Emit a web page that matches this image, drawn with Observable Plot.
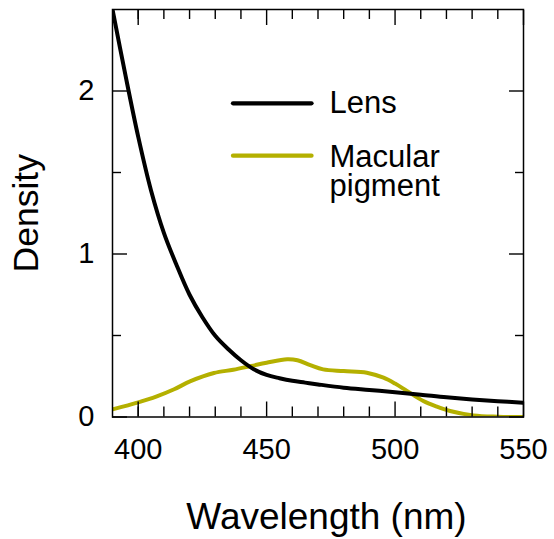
<!DOCTYPE html>
<html>
<head>
<meta charset="utf-8">
<script src="https://cdn.jsdelivr.net/npm/d3@7"></script>
<script src="https://cdn.jsdelivr.net/npm/@observablehq/plot@0.6"></script>
<style>
  body { margin: 0; background: #fff; }
  #wrap { position: relative; width: 554px; height: 539px; font-family: "Liberation Sans", Arial, sans-serif; }
  #legend { position: absolute; left: 0; top: 0; pointer-events: none; }
</style>
</head>
<body>
<div id="wrap"></div>
<script>
// ---- data ----
const seriesNames = ["Lens", "Macular pigment"];
const seriesColors = ["#000000", "#b4b000"];
const legendLabelLines = [["Lens"], ["Macular", "pigment"]];

const lensWavelength = [390, 395, 400, 405, 410, 415, 420, 425, 430, 435, 440, 445, 450, 455, 460, 465, 470, 480, 490, 500, 510, 520, 530, 540, 550];
const lensDensity    = [2.5, 2.1, 1.72, 1.39, 1.13, 0.93, 0.75, 0.612, 0.498, 0.417, 0.348, 0.293, 0.258, 0.238, 0.222, 0.211, 0.2, 0.18, 0.166, 0.152, 0.137, 0.121, 0.108, 0.097, 0.088];

const macularWavelength = [390, 400, 407, 414, 420.4, 429.5, 437, 444, 450, 458, 462, 467, 472, 480, 489, 495.5, 500, 504.6, 511, 516, 521.4, 530.5, 540, 550];
const macularDensity    = [0.047, 0.09, 0.125, 0.17, 0.22, 0.27, 0.29, 0.313, 0.333, 0.354, 0.348, 0.318, 0.292, 0.282, 0.272, 0.241, 0.205, 0.16, 0.098, 0.065, 0.037, 0.01, 0.002, 0];

const xMajorTicks = [400, 450, 500, 550];
const xMinorTicks = [400, 410, 420, 430, 440, 460, 470, 480, 490, 510, 520, 530, 540];
const yMajorTicks = [0, 1, 2];
const yMinorTicks = [0.5, 1.5];
const xTitle = "Wavelength (nm)";
const yTitle = "Density";

// ---- build rows ----
const lensRows = lensWavelength.map((w, i) => ({wavelength: w, density: lensDensity[i], series: seriesNames[0]}));
const macularRows = macularWavelength.map((w, i) => ({wavelength: w, density: macularDensity[i], series: seriesNames[1]}));

const tickStroke = {stroke: "#000", strokeWidth: 1.4, tickFormat: () => "", label: null};

const chart = Plot.plot({
  width: 554,
  height: 539,
  marginLeft: 112,
  marginRight: 31,
  marginTop: 9,
  marginBottom: 122.5,
  style: {fontFamily: "'Liberation Sans', Arial, sans-serif", color: "#000", background: "#fff", overflow: "visible"},
  x: {domain: [390, 550]},
  y: {domain: [0, 2.5]},
  marks: [
    Plot.line(macularRows, {x: "wavelength", y: "density", stroke: seriesColors[1], strokeWidth: 4, curve: "catmull-rom", clip: true}),
    Plot.line(lensRows, {x: "wavelength", y: "density", stroke: seriesColors[0], strokeWidth: 4, curve: "catmull-rom", clip: true}),
    Plot.frame({stroke: "#000", strokeWidth: 1.5}),
    // inward ticks
    Plot.axisX(xMinorTicks, {anchor: "bottom", tickSize: -10, ...tickStroke}),
    Plot.axisX(xMajorTicks, {anchor: "bottom", tickSize: -15, ...tickStroke}),
    Plot.axisX(xMinorTicks, {anchor: "top", tickSize: -9, ...tickStroke}),
    Plot.axisX(xMajorTicks, {anchor: "top", tickSize: -15, ...tickStroke}),
    Plot.axisY(yMinorTicks, {anchor: "left", tickSize: -9, ...tickStroke}),
    Plot.axisY(yMajorTicks, {anchor: "left", tickSize: -15, ...tickStroke}),
    Plot.axisY(yMinorTicks, {anchor: "right", tickSize: -9, ...tickStroke}),
    Plot.axisY(yMajorTicks, {anchor: "right", tickSize: -15, ...tickStroke}),
    // tick labels
    Plot.axisX(xMajorTicks, {anchor: "bottom", tickSize: 0, tickPadding: 21, fontSize: 29, fill: "#000", label: null, tickFormat: d => String(d)}),
    Plot.axisY(yMajorTicks, {anchor: "left", tickSize: 0, tickPadding: 18, fontSize: 29, fill: "#000", label: null, tickFormat: d => String(d)}),
    // axis titles
    Plot.text([xTitle], {text: d => d, frameAnchor: "bottom", lineAnchor: "top", dy: 86, dx: 8.5, fontSize: 37, fill: "#000"}),
    Plot.text([yTitle], {text: d => d, frameAnchor: "left", rotate: -90, dx: -86, lineAnchor: "middle", textAnchor: "middle", fontSize: 35.5, fill: "#000"})
  ]
});

const wrap = document.getElementById("wrap");
wrap.appendChild(chart);

// ---- legend overlay ----
const ns = "http://www.w3.org/2000/svg";
const leg = document.createElementNS(ns, "svg");
leg.setAttribute("id", "legend");
leg.setAttribute("width", 554);
leg.setAttribute("height", 539);
const legendLineY = [103.3, 155.7];
const legendTextBaseline = [113.3, 166.5];
const legendLineHeight = 29.5;
seriesNames.forEach((name, i) => {
  const ln = document.createElementNS(ns, "line");
  ln.setAttribute("x1", 233); ln.setAttribute("x2", 311.5);
  ln.setAttribute("y1", legendLineY[i]); ln.setAttribute("y2", legendLineY[i]);
  ln.setAttribute("stroke", seriesColors[i]);
  ln.setAttribute("stroke-width", 4.3);
  ln.setAttribute("stroke-linecap", "round");
  leg.appendChild(ln);
  const tx = document.createElementNS(ns, "text");
  tx.setAttribute("x", 329.5);
  tx.setAttribute("y", legendTextBaseline[i]);
  tx.setAttribute("font-size", 31);
  tx.setAttribute("font-family", "'Liberation Sans', Arial, sans-serif");
  tx.setAttribute("fill", "#000");
  legendLabelLines[i].forEach((t, j) => {
    const ts = document.createElementNS(ns, "tspan");
    ts.setAttribute("x", 329.5);
    ts.setAttribute("dy", j === 0 ? 0 : legendLineHeight);
    ts.textContent = t;
    tx.appendChild(ts);
  });
  leg.appendChild(tx);
});
wrap.appendChild(leg);
</script>
</body>
</html>
